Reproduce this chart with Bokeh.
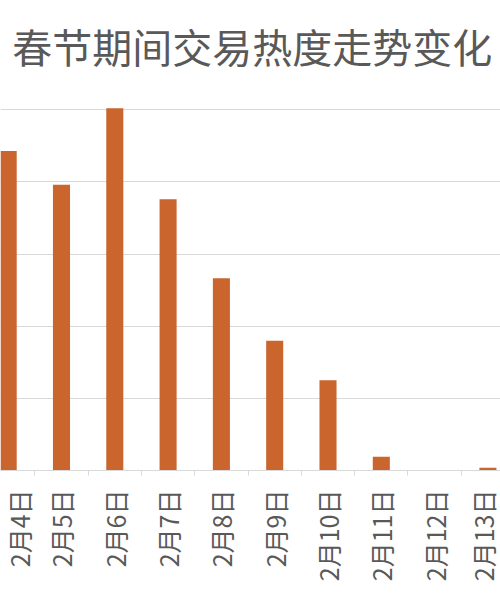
import math
from bokeh.plotting import figure
from bokeh.models import Range1d, FixedTicker, ColumnDataSource, Label
from bokeh.embed import file_html
from bokeh.resources import INLINE

# ---- data ----
categories = ["2月4日", "2月5日", "2月6日", "2月7日", "2月8日",
              "2月9日", "2月10日", "2月11日", "2月12日", "2月13日"]
values = [88.6, 79.2, 100.4, 75.2, 53.3, 36.0, 25.0, 3.8, 0.0, 0.75]
grid_values = [0, 20, 40, 60, 80, 100]
title_text = "春节期间交易热度走势变化"

positions = list(range(len(categories)))
boundaries = [i + 0.5 for i in range(-1, len(categories))]

src = ColumnDataSource(dict(x=positions, top=values, label=categories))

FONT = "Noto Sans CJK SC"
GRAY = "#595959"
LIGHT = "#d9d9d9"

# frame spans the whole upper area; the title sits inside it above the grid
p = figure(width=500, height=600, output_backend="svg", toolbar_location=None,
           x_range=Range1d(-0.144, 9.236), y_range=Range1d(0, 130.3),
           min_border_left=0, min_border_right=0, min_border_top=0,
           min_border_bottom=130, outline_line_color=None)

title = Label(x=4.58, y=125.7, text=title_text,
              text_font=FONT, text_font_size="40px", text_color=GRAY,
              text_align="center", text_baseline="top")
p.add_layout(title)

p.vbar(x="x", top="top", width=0.32, source=src, color="#C9652D", line_color=None)

p.yaxis.visible = False
p.ygrid.ticker = FixedTicker(ticks=grid_values)
p.ygrid.grid_line_color = LIGHT
p.ygrid.grid_line_width = 1
p.xgrid.grid_line_color = None

ax = p.xaxis[0]
ax.ticker = FixedTicker(ticks=positions, minor_ticks=boundaries)
ax.major_label_overrides = {i: c for i, c in zip(positions, categories)}
ax.major_label_orientation = math.pi / 2
ax.major_label_text_font = FONT
ax.major_label_text_font_size = "25px"
ax.major_label_text_color = GRAY
ax.major_label_standoff = 14
ax.major_tick_line_color = None
ax.major_tick_out = 0
ax.major_tick_in = 0
ax.minor_tick_line_color = LIGHT
ax.minor_tick_out = 5
ax.minor_tick_in = 0
ax.axis_line_color = LIGHT
ax.axis_line_width = 1

open("out.html", "w").write(file_html(p, INLINE))
